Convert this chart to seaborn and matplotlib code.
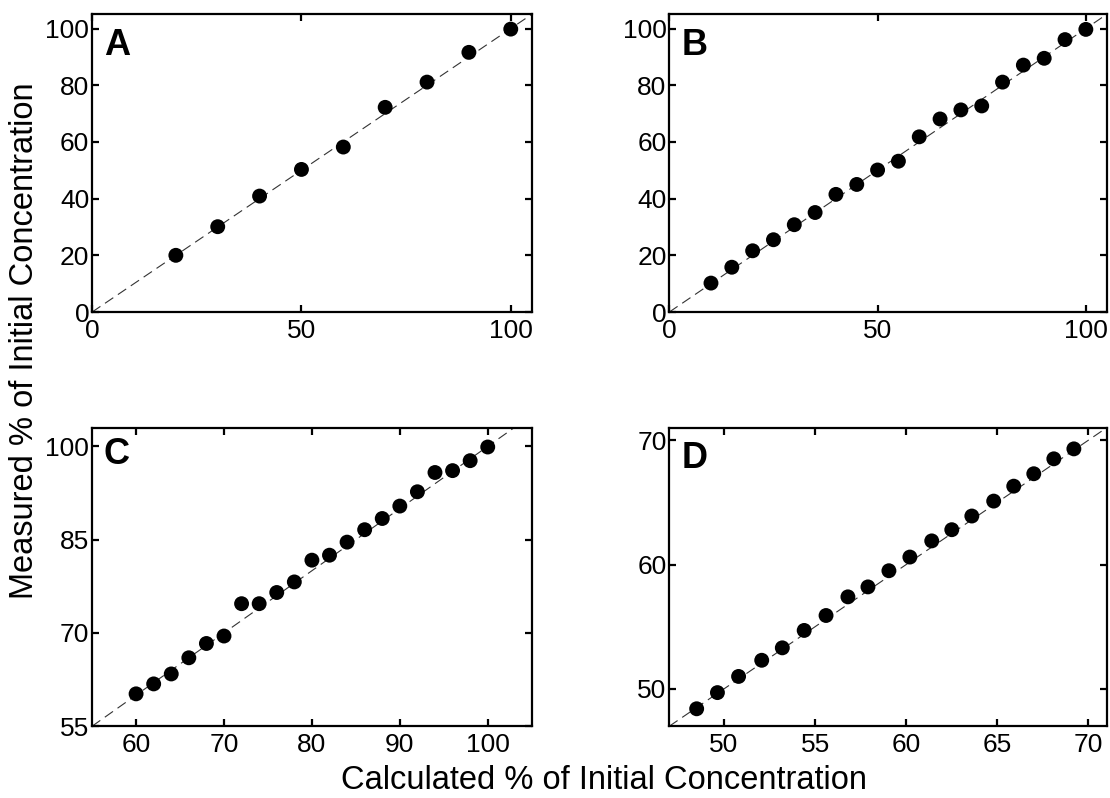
import numpy as np
import pandas as pd
import seaborn as sns
import matplotlib.pyplot as plt

a_calc = [20, 30, 40, 50, 60, 70, 80, 90, 100]
a_meas = [20.0, 30.1, 40.9, 50.3, 58.2, 72.2, 81.1, 91.6, 99.8]

b_calc = [10, 15, 20, 25, 30, 35, 40, 45, 50, 55, 60, 65, 70, 75, 80, 85, 90, 95, 100]
b_meas = [10.2, 15.8, 21.6, 25.5, 30.8, 35.1, 41.5, 45.0, 50.1, 53.2, 61.8,
          68.1, 71.3, 72.7, 81.1, 87.1, 89.5, 96.1, 99.7]

c_calc = [60, 62, 64, 66, 68, 70, 72, 74, 76, 78, 80, 82, 84, 86, 88, 90, 92, 94, 96, 98, 100]
c_meas = [60.2, 61.8, 63.4, 66.0, 68.3, 69.5, 74.7, 74.7, 76.5, 78.2, 81.7,
          82.5, 84.6, 86.6, 88.4, 90.4, 92.7, 95.8, 96.1, 97.7, 99.9]

d_calc = [48.5, 49.64, 50.8, 52.07, 53.2, 54.4, 55.6, 56.8, 57.9, 59.05, 60.2,
          61.4, 62.5, 63.6, 64.8, 65.9, 67.0, 68.1, 69.2]
d_meas = [48.4, 49.7, 51.0, 52.3, 53.3, 54.7, 55.9, 57.4, 58.2, 59.5, 60.6,
          61.9, 62.8, 63.9, 65.1, 66.3, 67.3, 68.5, 69.3]

panel_letters = ['A', 'B', 'C', 'D']
x_ticks = [[0, 50, 100], [0, 50, 100], [60, 70, 80, 90, 100], [50, 55, 60, 65, 70]]
y_ticks = [[0, 20, 40, 60, 80, 100], [0, 20, 40, 60, 80, 100], [55, 70, 85, 100], [50, 60, 70]]
x_lims = [(0, 105), (0, 105), (55, 105), (47, 71)]
y_lims = [(0, 105), (0, 105), (55, 103), (47, 71)]

sns.set_style('ticks', {'xtick.direction': 'in', 'ytick.direction': 'in'})
plt.rcParams['font.family'] = ['Liberation Sans', 'DejaVu Sans']
plt.rcParams['text.color'] = 'black'

df = pd.concat([
    pd.DataFrame({'calc': a_calc, 'meas': a_meas, 'panel': 'A'}),
    pd.DataFrame({'calc': b_calc, 'meas': b_meas, 'panel': 'B'}),
    pd.DataFrame({'calc': c_calc, 'meas': c_meas, 'panel': 'C'}),
    pd.DataFrame({'calc': d_calc, 'meas': d_meas, 'panel': 'D'}),
])

fig = plt.figure(figsize=(11.1, 7.98), dpi=100)
boxes = [(0.083, 0.609, 0.396, 0.373),
         (0.603, 0.609, 0.394, 0.373),
         (0.083, 0.090, 0.396, 0.374),
         (0.603, 0.090, 0.394, 0.374)]
letter_y = [0.955, 0.955, 0.968, 0.955]

for i, letter in enumerate(panel_letters):
    ax = fig.add_axes(boxes[i])
    sub = df[df['panel'] == letter]
    lo, hi = x_lims[i]
    ax.axline((lo, lo), slope=1, color='#333333', lw=0.8, dashes=(9, 5), zorder=1)
    sns.scatterplot(data=sub, x='calc', y='meas', ax=ax, color='black',
                    s=115, edgecolor='none', zorder=2, legend=False)
    ax.set_xlim(*x_lims[i])
    ax.set_ylim(*y_lims[i])
    ax.set_xticks(x_ticks[i])
    ax.set_yticks(y_ticks[i])
    ax.set_xlabel('')
    ax.set_ylabel('')
    for sp in ax.spines.values():
        sp.set_linewidth(1.6)
        sp.set_color('black')
    ax.tick_params(axis='both', which='both', direction='in', top=True, right=True,
                   length=5, width=1.6, labelsize=19, colors='black')
    ax.tick_params(axis='y', pad=2)
    ax.tick_params(axis='x', pad=5)
    ax.text(0.027, letter_y[i], letter, transform=ax.transAxes, fontsize=26,
            fontweight='bold', va='top', ha='left', color='black')

fig.text(0.544, 0.022, 'Calculated % of Initial Concentration', ha='center',
         va='center', fontsize=23.5, color='black')
fig.text(0.022, 0.573, 'Measured % of Initial Concentration', ha='center',
         va='center', rotation=90, fontsize=23.5, color='black')

fig.savefig('out.png', dpi=100)
